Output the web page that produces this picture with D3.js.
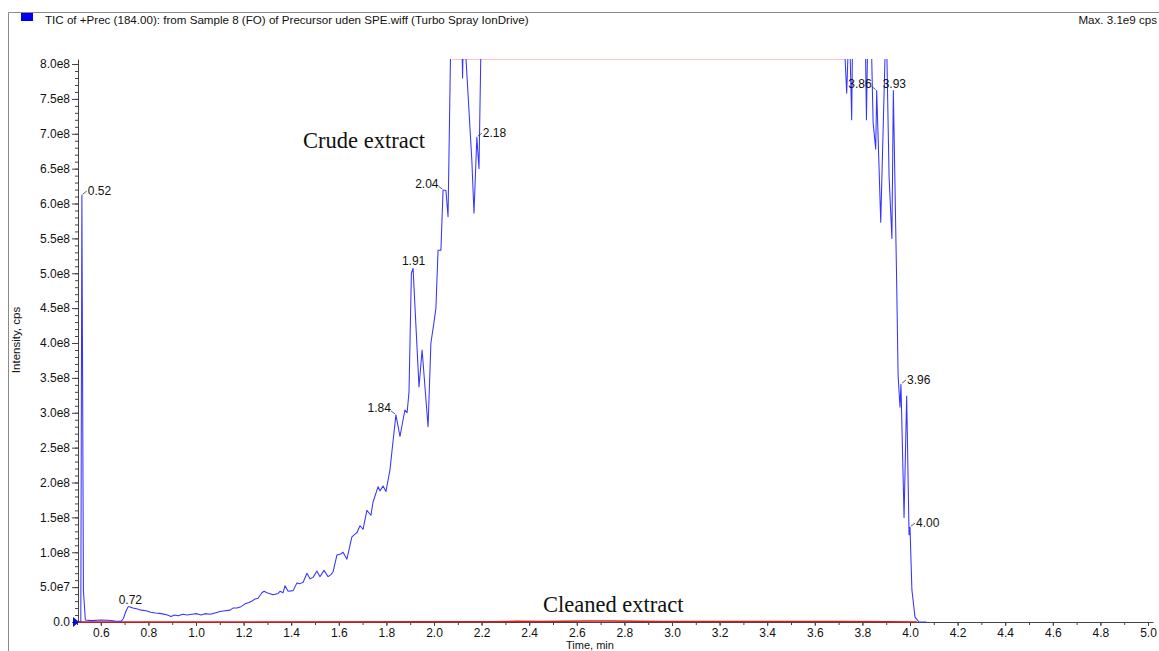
<!DOCTYPE html>
<html><head><meta charset="utf-8">
<script src="https://cdn.jsdelivr.net/npm/d3@7"></script>
<style>
body{margin:0;background:#fff;}
svg{display:block;}
text{font-family:"Liberation Sans",Arial,sans-serif;}
</style>
</head><body>
<svg id="chart" width="1159" height="651"></svg>
<script>
// ---------------- DATA ----------------
const titleText = "TIC of +Prec (184.00): from Sample 8 (FO) of Precursor uden SPE.wiff (Turbo Spray IonDrive)";
const maxText = "Max. 3.1e9 cps";

// Crude extract TIC (time in min, intensity in cps); values above 8.0e8 are off-scale (saturated)
const crudeTime = [0.505,0.516,0.5205,0.527,0.535,0.56,0.60,0.63,0.66,0.685,0.695,0.705,0.715,0.72,0.735,0.75,0.77,0.79,0.81,0.83,0.855,0.88,0.895,0.91,0.925,0.945,0.962,0.983,1.004,1.021,1.038,1.059,1.08,1.101,1.122,1.143,1.155,1.172,1.189,1.206,1.223,1.235,1.248,1.261,1.277,1.286,1.298,1.324,1.345,1.353,1.366,1.374,1.387,1.408,1.424,1.437,1.45,1.466,1.479,1.492,1.508,1.521,1.538,1.555,1.567,1.576,1.592,1.605,1.618,1.634,1.655,1.668,1.676,1.689,1.702,1.718,1.735,1.744,1.765,1.773,1.786,1.798,1.815,1.824,1.84,1.857,1.87,1.878,1.887,1.895,1.905,1.912,1.937,1.95,1.975,1.987,2.0,2.008,2.017,2.029,2.038,2.05,2.059,2.08,2.1,2.116,2.12,2.124,2.128,2.134,2.159,2.168,2.18,2.189,2.197,2.21,2.3,2.5,2.8,3.1,3.4,3.6,3.7,3.727,3.734,3.741,3.748,3.755,3.759,3.79,3.813,3.817,3.822,3.83,3.839,3.845,3.856,3.86,3.877,3.895,3.899,3.903,3.912,3.924,3.93,3.944,3.95,3.958,3.962,3.975,3.986,3.996,4.0,4.008,4.021,4.038,4.07];
const crudeIntensity = [0,0.001e8,6.12e8,0.45e8,0.03e8,0.02e8,0.03e8,0.025e8,0.015e8,0.01e8,0.05e8,0.15e8,0.22e8,0.22e8,0.20e8,0.19e8,0.17e8,0.16e8,0.14e8,0.13e8,0.12e8,0.10e8,0.08e8,0.10e8,0.09e8,0.11e8,0.10e8,0.11e8,0.12e8,0.10e8,0.12e8,0.11e8,0.13e8,0.15e8,0.16e8,0.17e8,0.20e8,0.20e8,0.22e8,0.26e8,0.28e8,0.30e8,0.33e8,0.34e8,0.42e8,0.44e8,0.42e8,0.39e8,0.41e8,0.44e8,0.42e8,0.52e8,0.44e8,0.45e8,0.56e8,0.55e8,0.57e8,0.70e8,0.62e8,0.64e8,0.73e8,0.65e8,0.74e8,0.65e8,0.68e8,0.72e8,0.96e8,0.97e8,1.00e8,0.90e8,1.22e8,1.26e8,1.28e8,1.38e8,1.33e8,1.60e8,1.53e8,1.72e8,1.94e8,1.88e8,1.95e8,1.87e8,2.18e8,2.47e8,2.97e8,2.66e8,2.90e8,3.04e8,3.00e8,3.30e8,5.00e8,5.07e8,3.37e8,3.90e8,2.80e8,4.00e8,4.30e8,4.50e8,5.33e8,5.33e8,6.19e8,6.19e8,5.81e8,10.5e8,11e8,8.6e8,7.8e8,8.6e8,9.0e8,8.1e8,6.62e8,5.86e8,6.95e8,6.50e8,8.2e8,12e8,18e8,25e8,31e8,29e8,24e8,16e8,10e8,8.1e8,7.58e8,8.3e8,8.2e8,7.2e8,8.5e8,11e8,8.2e8,7.2e8,8.3e8,9.5e8,8.1e8,7.16e8,6.78e8,7.62e8,5.73e8,8.1e8,9.0e8,8.1e8,6.39e8,5.50e8,7.62e8,4.86e8,3.54e8,3.08e8,3.41e8,1.50e8,3.24e8,1.25e8,1.36e8,0.46e8,0.07e8,0,0];

// Cleaned extract TIC
const cleanTime = [0.504,1.0,2.0,2.25,2.35,2.45,2.55,2.65,2.75,2.85,2.95,3.1,3.3,3.5,3.7,3.9,4.03];
const cleanIntensity = [0,0.001e8,0.002e8,0.003e8,0.01e8,0.008e8,0.012e8,0.015e8,0.014e8,0.01e8,0.007e8,0.006e8,0.007e8,0.008e8,0.007e8,0.005e8,0];

// Peak annotations
const peakTimes  = [0.52,0.72,1.84,1.91,2.04,2.18,3.86,3.93,3.962,4.00];
const peakValues = [6.12e8,0.22e8,2.97e8,5.07e8,6.19e8,6.95e8,7.62e8,7.62e8,3.41e8,1.36e8];
const peakLabels = ["0.52","0.72","1.84","1.91","2.04","2.18","3.86","3.93","3.96","4.00"];
const peakSide   = ["right","above","left","above","left","right","left","above","right","right"];

// Saturated (off-scale) range of the crude trace
const saturatedRange = [2.076, 3.727];

// Axis ticks
const xTickValues = [0.6,0.8,1.0,1.2,1.4,1.6,1.8,2.0,2.2,2.4,2.6,2.8,3.0,3.2,3.4,3.6,3.8,4.0,4.2,4.4,4.6,4.8,5.0];
const xTickLabels = ["0.6","0.8","1.0","1.2","1.4","1.6","1.8","2.0","2.2","2.4","2.6","2.8","3.0","3.2","3.4","3.6","3.8","4.0","4.2","4.4","4.6","4.8","5.0"];
const yTickValues = [0,0.5e8,1.0e8,1.5e8,2.0e8,2.5e8,3.0e8,3.5e8,4.0e8,4.5e8,5.0e8,5.5e8,6.0e8,6.5e8,7.0e8,7.5e8,8.0e8];
const yTickLabels = ["0.0","5.0e7","1.0e8","1.5e8","2.0e8","2.5e8","3.0e8","3.5e8","4.0e8","4.5e8","5.0e8","5.5e8","6.0e8","6.5e8","7.0e8","7.5e8","8.0e8"];

// Series text labels
const seriesNames = ["Crude extract","Cleaned extract"];
const seriesLabelTime = [1.45, 2.458];
const seriesLabelValue = [6.8e8, 0.143e8];

// ---------------- CHART ----------------
const svg = d3.select("#chart");
const X0 = 78, X1 = 1153, Y0 = 622, Y1 = 59;
const x = d3.scaleLinear().domain([0.5042, 5.021]).range([X0, X1]);
const y = d3.scaleLinear().domain([0, 8.072e8]).range([Y0, Y1]);
const SANS = "'Liberation Sans', Arial, sans-serif";
const SERIF = "'Liberation Serif', 'Times New Roman', serif";

// frame
svg.append("line").attr("x1",8.5).attr("x2",1159).attr("y1",12.5).attr("y2",12.5).attr("stroke","#8a8a8a").attr("stroke-width",1);
svg.append("line").attr("x1",8.5).attr("x2",8.5).attr("y1",12.5).attr("y2",651).attr("stroke","#8a8a8a").attr("stroke-width",1);

// title
svg.append("rect").attr("x",21).attr("y",13).attr("width",12).attr("height",8).attr("fill","#0000ee");
svg.append("text").attr("x",45).attr("y",23.5).style("font-size","11.6px").attr("fill","#111").text(titleText);
svg.append("text").attr("x",1157).attr("y",23.5).style("font-size","11.6px").attr("fill","#111").attr("text-anchor","end").text(maxText);

// clip
svg.append("defs").append("clipPath").attr("id","clip").append("rect")
  .attr("x",X0).attr("y",Y1).attr("width",X1-X0).attr("height",Y0-Y1+1);

// y axis
const yMinor = d3.range(0, 81).map(i => i*0.1e8);
svg.append("g").attr("transform",`translate(${X0},0)`)
  .call(d3.axisLeft(y).tickValues(yMinor).tickSize(3).tickSizeOuter(0).tickFormat(""))
  .call(g=>g.select(".domain").remove())
  .call(g=>g.selectAll("line").attr("stroke","#444"));
svg.append("g").attr("transform",`translate(${X0},0)`)
  .call(d3.axisLeft(y).tickValues(yTickValues).tickFormat((d,i)=>yTickLabels[i]).tickSize(6).tickSizeOuter(0).tickPadding(2))
  .call(g=>g.select(".domain").attr("stroke","#444"))
  .call(g=>g.selectAll("line").attr("stroke","#444"))
  .call(g=>g.selectAll("text").style("font-size","12px").attr("fill","#111").style("font-family",SANS));

// x axis
const xMinor = d3.range(5, 51).map(i => i/10);
svg.append("g").attr("transform",`translate(0,${Y0})`)
  .call(d3.axisBottom(x).tickValues(xMinor).tickSize(3).tickSizeOuter(0).tickFormat(""))
  .call(g=>g.select(".domain").remove())
  .call(g=>g.selectAll("line").attr("stroke","#444"));
svg.append("g").attr("transform",`translate(0,${Y0})`)
  .call(d3.axisBottom(x).tickValues(xTickValues).tickFormat((d,i)=>xTickLabels[i]).tickSize(4).tickSizeOuter(0).tickPadding(2))
  .call(g=>g.select(".domain").attr("stroke","#444"))
  .call(g=>g.selectAll("line").attr("stroke","#444"))
  .call(g=>g.selectAll("text").style("font-size","12px").attr("fill","#111").style("font-family",SANS));

// axis titles
svg.append("text").attr("transform","translate(20,340) rotate(-90)").attr("text-anchor","middle")
  .style("font-size","11.5px").attr("fill","#111").text("Intensity, cps");
svg.append("text").attr("x",590).attr("y",649).attr("text-anchor","middle")
  .style("font-size","11px").attr("fill","#111").text("Time, min");

// saturation line at top
svg.append("line").attr("x1",x(saturatedRange[0])).attr("x2",x(saturatedRange[1]))
  .attr("y1",Y1+0.5).attr("y2",Y1+0.5).attr("stroke","#ffc4c4").attr("stroke-width",1);

// series
const plot = svg.append("g").attr("clip-path","url(#clip)");
const line = d3.line().x(d=>x(d[0])).y(d=>y(d[1]));
const cleanData = cleanTime.map((t,i)=>[t, cleanIntensity[i]]);
const crudeData = crudeTime.map((t,i)=>[t, crudeIntensity[i]]);
plot.append("path").datum(cleanData).attr("d",line).attr("fill","none").attr("stroke","#e01818").attr("stroke-width",1.5);
plot.append("path").datum(crudeData).attr("d",line).attr("fill","none").attr("stroke","#3535ff").attr("stroke-width",1.05).attr("stroke-linejoin","round");

// zero marker
svg.append("path").attr("transform",`translate(${X0},${y(0)})`).attr("d","M-5,-5L1,0L-5,5Z").attr("fill","#0a0ad0");

// peak labels
const lab = svg.append("g").attr("fill","#111");
peakTimes.forEach((t,i)=>{
  const px = x(t), py = y(peakValues[i]);
  const side = peakSide[i];
  if (side === "above") {
    lab.append("text").attr("x",px+1).attr("y",py-3).attr("text-anchor","middle").style("font-size","12px").text(peakLabels[i]);
  } else if (side === "right") {
    lab.append("line").attr("x1",px+1).attr("y1",py-1).attr("x2",px+5).attr("y2",py-4).attr("stroke","#333").attr("stroke-width",0.8);
    lab.append("text").attr("x",px+6).attr("y",py-0.5).style("font-size","12px").text(peakLabels[i]);
  } else {
    lab.append("line").attr("x1",px-1).attr("y1",py-1).attr("x2",px-5).attr("y2",py-4).attr("stroke","#333").attr("stroke-width",0.8);
    lab.append("text").attr("x",px-5).attr("y",py-2.5).attr("text-anchor","end").style("font-size","12px").text(peakLabels[i]);
  }
});

// series names
seriesNames.forEach((n,i)=>{
  svg.append("text").attr("x",x(seriesLabelTime[i])).attr("y",y(seriesLabelValue[i]))
    .style("font-family",SERIF).style("font-size","22.5px").attr("fill","#111").text(n);
});
</script>
</body></html>
